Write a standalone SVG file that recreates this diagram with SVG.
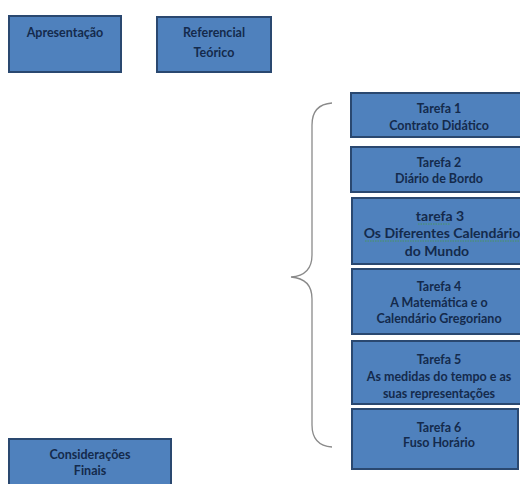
<svg xmlns="http://www.w3.org/2000/svg" width="520" height="484" viewBox="0 0 520 484">
<style>
.box{fill:#4f81bd;stroke:#2a4870;stroke-width:2}
.t{font-family:Lato,"Liberation Sans",sans-serif;font-weight:bold;font-size:12.5px;fill:#142a4c;text-anchor:middle}
.big{font-size:14px}
.brace{fill:none;stroke:#8a8a8a;stroke-width:1.3}
.sq{fill:none;stroke:#4a9a4a;stroke-width:0.8;stroke-dasharray:1.5 1}
</style>
<defs>
<clipPath id="c5"><rect x="352" y="342" width="170" height="61"/></clipPath>
</defs>
<rect width="520" height="484" fill="#ffffff"/>
<g id="apresentacao">
<rect class="box" x="9" y="16" width="112" height="56"/>
<text class="t" x="65" y="37">Apresentação</text>
</g>
<g id="referencial">
<rect class="box" x="157" y="17" width="114" height="55"/>
<text class="t" x="214" y="37">Referencial</text>
<text class="t" x="214" y="57">Teórico</text>
</g>
<g id="tarefa1">
<rect class="box" x="351" y="93" width="176" height="44"/>
<text class="t" x="439" y="113">Tarefa 1</text>
<text class="t" x="439" y="130">Contrato Didático</text>
</g>
<g id="tarefa2">
<rect class="box" x="351" y="147" width="176" height="45"/>
<text class="t" x="439" y="167">Tarefa 2</text>
<text class="t" x="439" y="183">Diário de Bordo</text>
</g>
<g id="tarefa3">
<rect class="box" x="352" y="198" width="176" height="66"/>
<text class="t big" x="440" y="221">tarefa 3</text>
<text class="t big" x="442" y="238">Os Diferentes Calendário</text>
<text class="t big" x="437" y="256">do Mundo</text>
<path class="sq" d="M418,224 L450,224 M365,241 L519,241"/>
</g>
<g id="tarefa4">
<rect class="box" x="352" y="269" width="176" height="65"/>
<text class="t" x="439" y="291">Tarefa 4</text>
<text class="t" x="439" y="307">A Matemática e o</text>
<text class="t" x="439" y="323">Calendário Gregoriano</text>
</g>
<g id="tarefa5">
<rect class="box" x="352" y="341" width="176" height="63"/>
<g clip-path="url(#c5)">
<text class="t" x="439" y="364">Tarefa 5</text>
<text class="t" x="439" y="381">As medidas do tempo e as</text>
<text class="t" x="439" y="398">suas representações</text>
</g>
</g>
<g id="tarefa6">
<rect class="box" x="352" y="409" width="166" height="60"/>
<text class="t" x="439" y="432">Tarefa 6</text>
<text class="t" x="439" y="447">Fuso Horário</text>
</g>
<g id="consideracoes">
<rect class="box" x="9" y="439" width="162" height="50"/>
<text class="t" x="90" y="459">Considerações</text>
<text class="t" x="90" y="475">Finais</text>
</g>
<g id="connectors">
<path class="brace" d="M332,103 C318,104 312,112 312,125 L312,255 C312,268 305,276 291,277 C305,278 312,286 312,299 L312,425 C312,438 318,446 332,447"/>
</g>
</svg>
